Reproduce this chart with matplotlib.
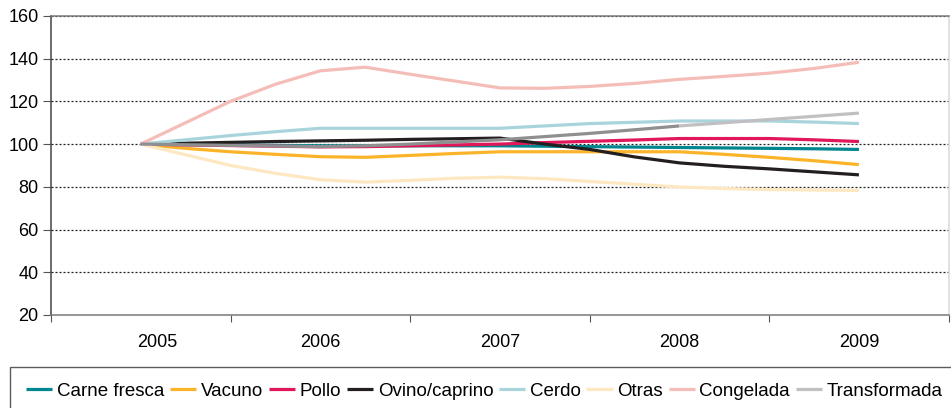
import numpy as np
import matplotlib.pyplot as plt
from matplotlib.transforms import ScaledTranslation

plt.rcParams['font.family'] = ['Liberation Sans', 'DejaVu Sans']

years = ['2005', '2006', '2007', '2008', '2009']
# datos trimestrales, 2005 = 100
quarters = np.arange(17) / 4

carne_fresca = [100, 99.8, 99.6, 99.4, 99.2, 99.2, 99.2, 99.2, 99.2, 99.0, 98.8, 98.6, 98.4, 98.2, 98.0, 97.8, 97.5]
vacuno = [100, 98.0, 96.4, 95.2, 94.1, 93.8, 94.7, 95.6, 96.4, 96.4, 96.4, 96.4, 96.4, 95.2, 93.8, 92.2, 90.4]
pollo = [100, 99.6, 99.3, 99.0, 98.7, 98.8, 99.2, 99.6, 100, 100.7, 101.3, 101.9, 102.6, 102.6, 102.6, 102.0, 101.2]
ovino_caprino = [100, 100.4, 100.8, 101.2, 101.5, 101.8, 102.2, 102.5, 102.8, 100.0, 97.5, 94.0, 91.2, 89.6, 88.4, 87.0, 85.6]
cerdo = [100, 102.0, 104.0, 105.8, 107.4, 107.4, 107.4, 107.4, 107.4, 108.5, 109.6, 110.2, 110.8, 110.8, 110.8, 110.3, 109.6]
otras = [100, 95.0, 90.0, 86.3, 83.3, 82.2, 83.0, 84.0, 84.5, 83.8, 82.5, 81.2, 79.9, 79.2, 78.7, 78.5, 78.3]
congelada = [100, 110, 120, 128, 134.3, 136, 132.7, 129.5, 126.3, 126.1, 127, 128.4, 130.3, 131.7, 133.2, 135.4, 138.3]
transformada = [100, 99.7, 99.4, 99.1, 98.8, 99.2, 100, 101, 102, 103.5, 105, 106.7, 108.5, 110, 111.5, 113, 114.5]

names = ['Carne fresca', 'Vacuno', 'Pollo', 'Ovino/caprino', 'Cerdo', 'Otras', 'Congelada', 'Transformada']
colors = ['#00868f', '#fbb42a', '#e0185a', '#231f20', '#a9d4dc', '#fde8c2', '#f4bdb7', '#c0c0c2']

fig = plt.figure(figsize=(9.51, 4.08), dpi=100)
ax = fig.add_axes([0.0536, 0.228, 0.944, 0.733])

handles = []
data = [carne_fresca, vacuno, pollo, ovino_caprino, cerdo, otras, congelada, transformada]
for name, vals, c in zip(names, data, colors):
    if name == 'Transformada':
        # tramo hasta 2008 mas oscuro
        ax.plot(quarters[:13], vals[:13], color='#8f8f91', lw=2.3, solid_capstyle='butt')
        h, = ax.plot(quarters[12:], vals[12:], color=c, lw=2.3, solid_capstyle='butt')
    else:
        h, = ax.plot(quarters, vals, color=c, lw=2.3, solid_capstyle='butt')
    handles.append(h)

ax.set_xlim(-0.5, 4.5)
ax.set_ylim(20, 160)
ax.set_yticks(range(20, 161, 20))
ax.set_xticks(np.arange(-0.5, 4.6, 1))
ax.set_xticklabels([])
ax.set_xticks(range(5), minor=True)
ax.set_xticklabels(years, minor=True)
ax.tick_params(axis='x', which='major', direction='out', length=5, color='#555555')
ax.tick_params(axis='x', which='minor', length=0, pad=14, labelsize=13)
ax.tick_params(axis='y', direction='out', length=6, color='#555555', labelsize=13, pad=3)
lbl = ax.get_xticklabels(minor=True)[0]
lbl.set_transform(lbl.get_transform() + ScaledTranslation(17 / 100, 0, fig.dpi_scale_trans))

ax.yaxis.grid(True, linestyle=(0, (1.6, 1.6)), color='#222222', lw=0.9)
ax.set_axisbelow(True)
ax.spines['left'].set_color('#444444')
ax.spines['top'].set_color('#7a7a7a')
ax.spines['bottom'].set_color('#7a7a7a')
ax.spines['right'].set_color('#d8d8d8')
for s in ax.spines.values():
    s.set_linewidth(1.1)

leg = fig.legend(handles, names, loc='upper left', bbox_to_anchor=(0.0105, 0.1005),
                 ncol=8, frameon=True, fancybox=False, edgecolor='#333333', fontsize=13.5,
                 handlelength=1.4, handletextpad=0.25, columnspacing=0.3,
                 borderpad=0.85, borderaxespad=0)
leg.get_frame().set_linewidth(1.0)

fig.savefig('out.png', dpi=100)
